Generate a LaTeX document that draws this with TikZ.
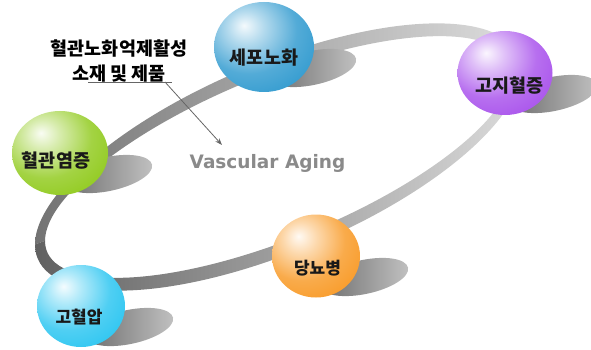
\documentclass[tikz,border=0pt]{standalone}
\usepackage{fontspec}
\usepackage{xcolor}
\usetikzlibrary{arrows.meta,shapes.geometric}
\newfontfamily\kr{Noto Sans CJK KR}
\newfontfamily\dejavu{DejaVu Sans}
\definecolor{agingblue}{RGB}{40,150,205}
\definecolor{lipidviolet}{RGB}{165,75,235}
\definecolor{inflamgreen}{RGB}{140,200,20}
\definecolor{pressurecyan}{RGB}{35,195,240}
\definecolor{diabetesorange}{RGB}{248,150,30}
\makeatletter
\pgfdeclareradialshading[tikz@ball]{glossy}{\pgfpoint{-10bp}{12bp}}{%
  color(0bp)=(tikz@ball!5!white); color(9bp)=(tikz@ball!35!white);
  color(24bp)=(tikz@ball!80!white); color(42bp)=(tikz@ball);
  color(60bp)=(tikz@ball!90!black); color(100bp)=(tikz@ball!90!black)}
\makeatother

\begin{document}
\begin{tikzpicture}[x=1pt,y=-1pt,
    bubble/.style={ellipse,inner sep=0pt,ball color=#1,shading=glossy},
    hangul/.style={font=\kr\bfseries\fontsize{#1}{#1}\selectfont,text=black!90},
    floorshade/.style={left color=black!58,right color=black!24},
    pointer/.style={draw=black!60,line width=0.8pt,-{Stealth[length=7pt,width=5pt]}}]
  \useasboundingbox (0,0) rectangle (591,350);
  % the ring, back half lighter than front half
  \begin{scope}[shift={(278,157)},yslant=0.36]
    \begin{scope}
      \clip (-260,0) rectangle (260,-120);
      \shade[even odd rule,left color=black!55,middle color=black!18,right color=black!13]
        (0,0) ellipse [x radius=243pt,y radius=101pt]
        (0,0) ellipse [x radius=233pt,y radius=87pt];
    \end{scope}
    \begin{scope}
      \clip (-260,0) rectangle (260,120);
      \shade[even odd rule,left color=black!62,middle color=black!36,right color=black!14]
        (0,0) ellipse [x radius=243pt,y radius=101pt]
        (0,0) ellipse [x radius=233pt,y radius=87pt];
    \end{scope}
  \end{scope}
  % shadows on the floor
  \foreach \x/\y in {264/47,505/73,60/153,81/306,316/256}
    \shade[floorshade,shift={(\x+48,\y+21)},rotate=12]
      (0,0) ellipse [x radius=45pt,y radius=17pt];

  \node[bubble=agingblue,minimum width=100pt,minimum height=90pt] (cell) at (264,47) {};
  \node[bubble=lipidviolet,minimum width=95pt,minimum height=84pt] (lipid) at (505,73) {};
  \node[bubble=inflamgreen,minimum width=96pt,minimum height=84pt] (inflam) at (60,153) {};
  \node[bubble=pressurecyan,minimum width=88pt,minimum height=82pt] (pressure) at (81,306) {};
  \node[bubble=diabetesorange,minimum width=88pt,minimum height=83pt] (diabetes) at (316,256) {};

  \node[hangul=18.5] (cell-t) at (264,57.5) {세포노화};
  \node[hangul=18.5] (lipid-t) at (509.5,86) {고지혈증};
  \node[hangul=18.5] (inflam-t) at (56,161) {혈관염증};
  \node[hangul=17] (pressure-t) at (79,317.5) {고혈압};
  \node[hangul=17] (diabetes-t) at (317.5,268) {당뇨병};

  \node[font=\kr\bfseries\fontsize{18.5}{25}\selectfont,align=center] (claim) at (119,61)
    {혈관노화억제활성\\소재 및 제품};
  \node[font=\dejavu\bfseries\fontsize{18.5}{20}\selectfont,text=black!46,anchor=base]
    (vascular) at (267.5,168) {Vascular Aging};

  % leader from the label
  \coordinate (lead) at (88,82);
  \coordinate (bend) at (172,82);
  \coordinate (tail) at (165,82);
  \coordinate (aim) at (222,145);
  \draw[black!60,line width=0.8pt] (lead) -- (bend);
  \draw[pointer] (tail) -- (aim);
\end{tikzpicture}
\end{document}
